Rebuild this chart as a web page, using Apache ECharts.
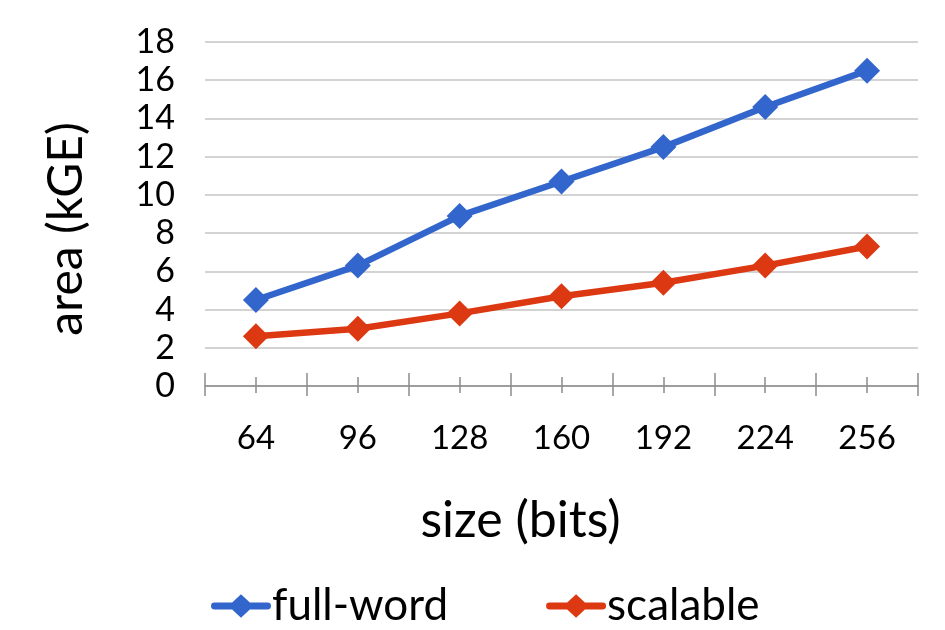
<!DOCTYPE html>
<html><head><meta charset="utf-8">
<script src="https://cdn.jsdelivr.net/npm/echarts@6/dist/echarts.min.js"></script>
<style>html,body{margin:0;padding:0;background:#fff}#c{width:945px;height:630px}</style>
</head><body><div id="c"></div>
<script>
const categories = ['64','96','128','160','192','224','256'];
const fullWord = [4.5, 6.3, 8.9, 10.7, 12.5, 14.6, 16.5];
const scalable = [2.6, 3.0, 3.8, 4.7, 5.4, 6.3, 7.3];
const yTicks = {min: 0, max: 18, interval: 2};

const FONT = 'Lato';
const axisColor = '#8c8c8c';
const legendIcon = 'path://M3,8.5 L21,8.5 L30,0 L39,8.5 L57,8.5 A3.5,3.5 0 0 1 57,15.5 L39,15.5 L30,24 L21,15.5 L3,15.5 A3.5,3.5 0 0 1 3,8.5 Z';
function extraAxis(inside, len, align) {
  return {
    type: 'category', data: categories, position: 'bottom', boundaryGap: true,
    axisLine: {show: false},
    axisLabel: {show: false},
    axisTick: {show: true, inside: inside, length: len, alignWithLabel: align, lineStyle: {color: axisColor, width: 1.5}}
  };
}
const chart = echarts.init(document.getElementById('c'));
chart.setOption({
  animation: false,
  textStyle: {fontFamily: FONT},
  grid: {left: 205, right: 27, top: 42, bottom: 244},
  legend: {
    bottom: -3, left: 206, itemGap: 98, itemWidth: 60, itemHeight: 24,
    icon: legendIcon,
    textStyle: {fontFamily: FONT, fontSize: 44, color: '#000', padding: [0, 0, 0, -4]},
    data: ['full-word', 'scalable']
  },
  xAxis: [{
    type: 'category', data: categories, boundaryGap: true,
    name: 'size (bits)', nameLocation: 'middle', nameGap: 110,
    nameTextStyle: {fontFamily: FONT, fontSize: 50, color: '#000', padding: [0, 82, 0, 0]},
    axisLine: {lineStyle: {color: axisColor, width: 1.5}},
    axisTick: {show: true, length: 10, lineStyle: {color: axisColor, width: 1.5}},
    axisLabel: {fontFamily: FONT, fontSize: 33, color: '#000', margin: 36}
  },
  extraAxis(true, 13, false),
  extraAxis(true, 9, true),
  extraAxis(false, 7, true)
  ],
  yAxis: {
    type: 'value', min: yTicks.min, max: yTicks.max, interval: yTicks.interval,
    name: 'area (kGE)', nameLocation: 'middle', nameGap: 114,
    nameTextStyle: {fontFamily: FONT, fontSize: 48, color: '#000', padding: [0, 30, 0, 0]},
    axisLine: {show: false}, axisTick: {show: false},
    axisLabel: {fontFamily: FONT, fontSize: 34, color: '#000', margin: 30},
    splitLine: {lineStyle: {color: '#c4c4c4', width: 1.5}}
  },
  series: [
    {name: 'full-word', type: 'line', data: fullWord, symbol: 'diamond', symbolSize: 26,
     lineStyle: {color: '#3366CC', width: 6.5}, itemStyle: {color: '#3366CC'}, z: 3},
    {name: 'scalable', type: 'line', data: scalable, symbol: 'diamond', symbolSize: 26,
     lineStyle: {color: '#DC3912', width: 6.5}, itemStyle: {color: '#DC3912'}, z: 3}
  ]
});
</script></body></html>
